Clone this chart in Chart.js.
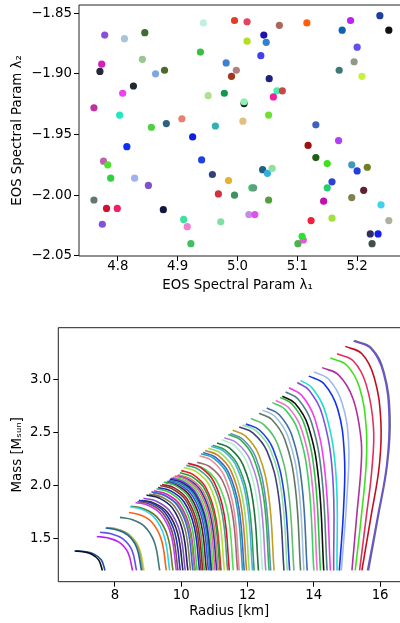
<!DOCTYPE html>
<html>
<head>
<meta charset="utf-8">
<script src="https://cdn.jsdelivr.net/npm/chart.js@4.4.1/dist/chart.umd.min.js"></script>
<style>
  html, body { margin: 0; padding: 0; background: #fff; overflow: hidden; }
  canvas { position: absolute; left: 0; }
  #paramChart { top: 0; }
  #mrChart { top: 300px; }
</style>
</head>
<body>
<canvas id="paramChart" width="400" height="300"></canvas>
<canvas id="mrChart" width="400" height="323"></canvas>
<script>
// --- EOS parameter samples (top panel) ---
const lambda1 = [4.778, 4.811, 4.845, 4.938, 4.773, 4.770, 4.841, 4.863, 4.878, 4.826,
  4.808, 4.760, 4.803, 4.856, 4.881, 4.907, 4.925, 4.943, 4.995, 5.016,
  5.070, 5.116, 5.189, 5.238, 5.175, 5.253, 5.044, 5.016, 5.048, 5.200,
  5.039, 4.981, 4.998, 4.990, 5.195, 5.170, 5.208, 5.053, 4.951, 4.978,
  5.066, 5.075, 5.060, 5.011, 5.011, 5.052, 4.963, 5.009, 5.131, 5.118,
  5.169, 4.815, 4.776, 4.783, 4.788, 4.828, 4.851, 4.760, 4.781, 4.799,
  4.876, 4.910, 4.916, 4.774, 4.922, 4.940, 5.131, 5.150, 5.191, 5.200,
  5.217, 4.958, 5.042, 5.050, 5.058, 4.985, 5.158, 5.150, 4.968, 4.995,
  5.024, 5.027, 5.052, 5.211, 5.191, 5.144, 5.240, 5.019, 5.029, 4.972,
  5.123, 5.158, 5.253, 5.222, 5.235, 5.225, 5.110, 5.108, 5.101];
const lambda2 = [-1.868, -1.871, -1.866, -1.882, -1.892, -1.898, -1.888, -1.900, -1.897, -1.910,
  -1.916, -1.928, -1.934, -1.944, -1.941, -1.937, -1.952, -1.858, -1.856, -1.857,
  -1.860, -1.858, -1.856, -1.852, -1.864, -1.864, -1.868, -1.873, -1.874, -1.878,
  -1.885, -1.891, -1.897, -1.902, -1.890, -1.897, -1.902, -1.904, -1.918, -1.916,
  -1.914, -1.914, -1.919, -1.9245, -1.923, -1.934, -1.943, -1.939, -1.942, -1.959,
  -1.955, -1.960, -1.972, -1.975, -1.986, -1.986, -1.992, -2.004, -2.011, -2.011,
  -2.012, -2.020, -2.026, -2.024, -2.040, -1.971, -1.969, -1.974, -1.975, -1.980,
  -1.977, -1.983, -1.979, -1.982, -1.978, -1.988, -1.989, -1.994, -1.999, -2.000,
  -1.994, -1.994, -2.004, -1.996, -2.002, -2.005, -2.008, -2.016, -2.016, -2.022,
  -2.021, -2.019, -2.021, -2.032, -2.032, -2.040, -2.037, -2.034, -2.040];
const pointColors = ['#8a4fd8', '#a8c4d8', '#3e6b2e', '#38c040', '#d020c0', '#28283c', '#98c890', '#80a8e0', '#4a6a2a', '#202830',
  '#f040f0', '#c030a0', '#20e8c0', '#50d040', '#306080', '#e88070', '#1020e0', '#c0f0e0', '#e04020', '#e84060',
  '#a86860', '#ff6010', '#c020f0', '#2040a0', '#1060b0', '#101010', '#2010b0', '#b0e020', '#3080d0', '#6050f0',
  '#4040f0', '#4080d0', '#b08080', '#a03820', '#909888', '#407878', '#c8f040', '#202080', '#b0e090', '#109850',
  '#40f0b0', '#c84848', '#f020a0', '#202020', '#90f0b0', '#70e030', '#30b0b0', '#e0c080', '#4060c0', '#a01010',
  '#b040f0', '#1030f0', '#c060b0', '#50e030', '#30d040', '#a0b0f0', '#8050d0', '#607870', '#d01030', '#f02060',
  '#101840', '#40e0a0', '#f080d0', '#8050e0', '#40c060', '#2040e0', '#206010', '#40e020', '#4098c0', '#2040e0',
  '#708020', '#304080', '#206080', '#30b0e0', '#90e0a0', '#e8b030', '#3040d0', '#20d070', '#d03040', '#409060',
  '#30d060', '#60a080', '#50a040', '#602030', '#808050', '#c010b0', '#40d0f0', '#c090e0', '#e050f0', '#80e0a0',
  '#f02040', '#a0e040', '#b0b0a0', '#303060', '#1020f0', '#405048', '#f050e0', '#30e030', '#50b050'];
const lambda1Ticks = [4.8, 4.9, 5.0, 5.1, 5.2];
const lambda2Ticks = [-2.05, -2.00, -1.95, -1.90, -1.85];

// --- mass-radius curves (bottom panel), [radius km, mass Msun] ---
const mrCurves = [
  [[6.78,1.383],[7.03,1.376],[7.30,1.352],[7.51,1.297],[7.62,1.2]],
  [[6.82,1.385],[7.08,1.378],[7.37,1.354],[7.59,1.298],[7.70,1.2]],
  [[7.45,1.52],[7.77,1.507],[8.12,1.466],[8.39,1.37],[8.53,1.2]],
  [[7.55,1.56],[7.88,1.546],[8.23,1.499],[8.51,1.391],[8.65,1.2]],
  [[7.72,1.60],[8.04,1.584],[8.39,1.532],[8.66,1.412],[8.80,1.2]],
  [[7.74,1.605],[8.07,1.589],[8.42,1.536],[8.70,1.415],[8.84,1.2]],
  [[7.76,1.60],[8.10,1.584],[8.45,1.532],[8.73,1.412],[8.88,1.2]],
  [[8.15,1.70],[8.51,1.68],[8.89,1.615],[9.19,1.465],[9.35,1.2]],
  [[8.42,1.745],[8.76,1.723],[9.12,1.652],[9.40,1.489],[9.55,1.2]],
  [[8.45,1.80],[8.81,1.776],[9.19,1.698],[9.49,1.518],[9.65,1.2]],
  [[8.48,1.805],[8.86,1.781],[9.27,1.702],[9.59,1.521],[9.75,1.2]],
  [[8.62,1.84],[8.99,1.814],[9.38,1.731],[9.69,1.539],[9.85,1.2]],
  [[8.68,1.85],[9.05,1.824],[9.44,1.74],[9.74,1.545],[9.90,1.2]],
  [[8.72,1.86],[9.10,1.834],[9.50,1.748],[9.81,1.55],[9.97,1.2]],
  [[8.80,1.86],[9.18,1.834],[9.58,1.748],[9.89,1.55],[10.05,1.2]],
  [[8.86,1.88],[9.24,1.853],[9.64,1.764],[9.96,1.56],[10.12,1.2]],
  [[8.95,1.91],[9.33,1.882],[9.73,1.789],[10.04,1.576],[10.20,1.2]],
  [[9.03,1.92],[9.41,1.891],[9.81,1.798],[10.12,1.582],[10.28,1.2]],
  [[9.10,1.94],[9.48,1.91],[9.88,1.814],[10.19,1.592],[10.35,1.2]],
  [[9.15,1.93],[9.53,1.901],[9.93,1.806],[10.24,1.587],[10.40,1.2]],
  [[9.18,1.95],[9.55,1.92],[9.95,1.823],[10.26,1.598],[10.42,1.2]],
  [[9.25,1.97],[9.62,1.939],[10.01,1.839],[10.32,1.608],[10.48,1.2]],
  [[9.30,1.98],[9.68,1.949],[10.08,1.847],[10.39,1.613],[10.55,1.2]],
  [[9.36,2.00],[9.73,1.968],[10.13,1.864],[10.44,1.624],[10.60,1.2]],
  [[9.42,2.01],[9.79,1.978],[10.18,1.872],[10.49,1.629],[10.65,1.2]],
  [[9.47,2.03],[9.84,1.997],[10.23,1.889],[10.54,1.64],[10.70,1.2]],
  [[9.52,2.03],[9.89,1.997],[10.29,1.889],[10.60,1.64],[10.76,1.2]],
  [[9.58,2.04],[9.95,2.006],[10.35,1.897],[10.66,1.645],[10.82,1.2]],
  [[9.63,2.05],[10.00,2.016],[10.40,1.906],[10.71,1.651],[10.87,1.2]],
  [[9.66,2.06],[10.03,2.026],[10.43,1.914],[10.74,1.656],[10.90,1.2]],
  [[9.70,2.07],[10.07,2.035],[10.46,1.922],[10.76,1.661],[10.92,1.2]],
  [[9.75,2.08],[10.12,2.045],[10.51,1.93],[10.81,1.666],[10.97,1.2]],
  [[9.80,2.09],[10.17,2.054],[10.56,1.939],[10.86,1.672],[11.02,1.2]],
  [[9.86,2.09],[10.22,2.054],[10.61,1.939],[10.91,1.672],[11.07,1.2]],
  [[9.90,2.10],[10.27,2.064],[10.66,1.947],[10.96,1.677],[11.12,1.2]],
  [[9.96,2.12],[10.32,2.083],[10.71,1.964],[11.01,1.688],[11.17,1.2]],
  [[10.00,2.14],[10.36,2.102],[10.74,1.98],[11.04,1.698],[11.20,1.2]],
  [[10.08,2.17],[10.45,2.131],[10.84,2.005],[11.14,1.714],[11.30,1.2]],
  [[10.15,2.19],[10.53,2.15],[10.93,2.022],[11.24,1.725],[11.40,1.2]],
  [[10.20,2.21],[10.58,2.17],[10.98,2.038],[11.29,1.735],[11.45,1.2]],
  [[10.30,2.20],[10.68,2.16],[11.09,2.03],[11.41,1.73],[11.57,1.2]],
  [[10.48,2.22],[10.85,2.179],[11.24,2.047],[11.54,1.741],[11.70,1.2]],
  [[10.55,2.28],[10.91,2.237],[11.29,2.096],[11.59,1.772],[11.75,1.2]],
  [[10.60,2.30],[10.98,2.256],[11.38,2.113],[11.69,1.783],[11.85,1.2]],
  [[10.66,2.31],[11.03,2.266],[11.43,2.121],[11.74,1.788],[11.90,1.2]],
  [[10.72,2.33],[11.10,2.285],[11.50,2.138],[11.81,1.799],[11.97,1.2]],
  [[10.82,2.35],[11.19,2.304],[11.58,2.155],[11.89,1.81],[12.05,1.2]],
  [[10.90,2.37],[11.28,2.323],[11.68,2.171],[11.99,1.82],[12.15,1.2]],
  [[10.95,2.38],[11.33,2.333],[11.73,2.179],[12.04,1.825],[12.20,1.2]],
  [[11.08,2.40],[11.46,2.352],[11.86,2.196],[12.17,1.836],[12.33,1.2]],
  [[11.22,2.43],[11.59,2.381],[11.98,2.221],[12.29,1.852],[12.45,1.2]],
  [[11.30,2.45],[11.68,2.40],[12.08,2.238],[12.39,1.863],[12.55,1.2]],
  [[11.42,2.48],[11.79,2.429],[12.18,2.262],[12.49,1.878],[12.65,1.2]],
  [[11.48,2.49],[11.85,2.438],[12.24,2.271],[12.54,1.884],[12.70,1.2]],
  [[11.55,2.52],[11.93,2.467],[12.33,2.296],[12.64,1.90],[12.80,1.2]],
  [[11.75,2.55],[12.16,2.496],[12.59,2.321],[12.93,1.916],[13.10,1.2]],
  [[11.85,2.57],[12.26,2.515],[12.69,2.337],[13.03,1.926],[13.20,1.2]],
  [[11.95,2.58],[12.35,2.525],[12.77,2.345],[13.10,1.931],[13.27,1.2]],
  [[12.10,2.63],[12.49,2.573],[12.91,2.387],[13.23,1.958],[13.40,1.2]],
  [[12.35,2.68],[12.73,2.621],[13.13,2.428],[13.44,1.984],[13.60,1.2]],
  [[12.45,2.71],[12.83,2.65],[13.23,2.453],[13.54,2.00],[13.70,1.2]],
  [[12.58,2.73],[12.95,2.669],[13.34,2.47],[13.64,2.011],[13.80,1.2]],
  [[12.75,2.78],[13.13,2.717],[13.53,2.511],[13.84,2.037],[14.00,1.2]],
  [[12.85,2.80],[13.23,2.736],[13.63,2.528],[13.94,2.048],[14.10,1.2]],
  [[12.98,2.83],[13.35,2.765],[13.74,2.553],[14.04,2.064],[14.20,1.2]],
  [[13.05,2.84],[13.43,2.774],[13.83,2.561],[14.14,2.069],[14.30,1.2]],
  [[13.15,2.88],[13.53,2.813],[13.93,2.594],[14.24,2.09],[14.40,1.2]],
  [[13.25,2.92],[13.63,2.851],[14.03,2.628],[14.34,2.112],[14.50,1.2]],
  [[13.50,2.97],[13.85,2.899],[14.27,2.651],[14.57,2.085],[14.60,1.2]],
  [[13.60,2.99],[13.95,2.918],[14.37,2.668],[14.67,2.095],[14.70,1.2]],
  [[13.85,3.03],[14.30,2.96],[14.72,2.72],[14.92,2.3],[14.90,1.8],[14.77,1.2]],
  [[14.00,3.07],[14.45,3.00],[14.85,2.78],[15.05,2.4],[15.00,1.9],[14.83,1.2]],
  [[14.25,3.11],[14.75,3.04],[15.18,2.82],[15.42,2.45],[15.43,2.2],[15.29,1.7],[15.15,1.2]],
  [[14.50,3.20],[15.00,3.13],[15.38,2.92],[15.58,2.55],[15.58,2.2],[15.43,1.7],[15.25,1.2]],
  [[14.70,3.24],[15.20,3.17],[15.58,2.95],[15.80,2.55],[15.75,2.15],[15.58,1.7],[15.38,1.2]],
  [[14.95,3.31],[15.45,3.24],[15.82,3.02],[16.02,2.62],[15.98,2.2],[15.72,1.7],[15.45,1.2]],
  [[15.20,3.36],[15.72,3.29],[16.10,3.06],[16.27,2.65],[16.20,2.2],[15.92,1.7],[15.62,1.2]],
  [[15.22,3.365],[15.74,3.295],[16.12,3.065],[16.30,2.65],[16.22,2.2],[15.94,1.7],[15.65,1.2]]
];
const curveColors = ['#101010', '#2050a0', '#c020f0', '#6050f0', '#206890', '#a0a070', '#c0e030', '#407878',
  '#ff6010', '#30d0f0', '#6a7a20', '#c040f0', '#805040', '#2030d0', '#302840', '#8050d0', '#202060',
  '#808050', '#4060e0', '#80a040', '#e020c0', '#40d040', '#2020c0', '#804030', '#a02020', '#30c060',
  '#601818', '#3050f0', '#209090', '#202090', '#9040e0', '#60e040', '#f060a0', '#1840a0', '#e08070',
  '#20a040', '#f02020', '#b0e030', '#40a080', '#e01030', '#50e050', '#a06870', '#e890a0', '#30a0b0',
  '#3070d0', '#d08020', '#90e060', '#50b0e0', '#30a050', '#207040', '#b0f0d0', '#b080e0', '#30b050',
  '#6090c0', '#c0a020', '#404080', '#90e0a0', '#2040e0', '#60c070', '#607860', '#a0c0e0', '#4070a0',
  '#40d060', '#f070d0', '#30c040', '#101010', '#508080', '#f040f0', '#8050e0', '#20e0d0', '#1030f0',
  '#a0b8f0', '#b030a0', '#40e020', '#e03060', '#c01020', '#7050d0', '#607080'];
const radiusTicks = [8, 10, 12, 14, 16];
const massTicks = [1.5, 2.0, 2.5, 3.0];

const tickFont = {family: "'DejaVu Sans', sans-serif", size: 13.33, lineHeight: 1};
const titleFont = {family: "'DejaVu Sans', sans-serif", size: 13.33, lineHeight: 1.2};

// matplotlib-style spines (right one falls outside the picture)
const frame = {
  id: 'frame',
  afterDatasetsDraw(chart) {
    const {ctx, chartArea: a} = chart;
    ctx.save();
    ctx.strokeStyle = '#222';
    ctx.lineWidth = 1;
    ctx.beginPath();
    ctx.moveTo(a.right + 20, a.top);
    ctx.lineTo(a.left, a.top);
    ctx.lineTo(a.left, a.bottom);
    ctx.lineTo(a.right + 20, a.bottom);
    ctx.stroke();
    ctx.restore();
  }
};

function makeScale(min, max, tickValues, fmt, title, horizontal, size, labelPad, titlePad) {
  return {
    type: 'linear',
    min: min,
    max: max,
    afterBuildTicks: s => { s.ticks = tickValues.map(v => ({value: v})); },
    afterFit: s => {
      if (horizontal) s.height = size; else s.width = size;
      s.paddingLeft = s.paddingRight = s.paddingTop = s.paddingBottom = 0;
    },
    ticks: {color: '#000', font: tickFont, padding: labelPad, autoSkip: false, maxRotation: 0,
      callback: v => fmt(v)},
    grid: {drawOnChartArea: false, drawTicks: true, tickLength: 5, color: '#000', lineWidth: 1},
    border: {display: false},
    title: {display: true, text: title, color: '#000', font: titleFont, padding: titlePad}
  };
}

const minus = s => s.replace('-', '\u2212');

// --- Top panel: parameter scatter ---
const paramPoints = lambda1.map((x, i) => ({x: x, y: lambda2[i]}));
new Chart(document.getElementById('paramChart'), {
  type: 'scatter',
  data: {
    datasets: [{
      data: paramPoints,
      pointBackgroundColor: pointColors,
      pointBorderWidth: 0,
      pointRadius: 3.6
    }]
  },
  options: {
    responsive: false,
    animation: false,
    layout: {padding: {top: 5, right: 0, bottom: 0, left: 0}},
    plugins: {legend: {display: false}, tooltip: {enabled: false}},
    scales: {
      x: makeScale(4.735, 5.265, lambda1Ticks, v => v.toFixed(1), 'EOS Spectral Param \u03bb\u2081',
        true, 44, -1, {bottom: 6}),
      y: makeScale(-2.0502, -1.8432, lambda2Ticks, v => minus(v.toFixed(2)), 'EOS Spectral Param \u03bb\u2082',
        false, 79, 2, {top: 10})
    }
  },
  plugins: [frame]
});

// --- Bottom panel: mass-radius curves ---
const curveSets = mrCurves.map((c, i) => ({
  data: c.map(p => ({x: p[0], y: p[1]})),
  showLine: true,
  borderColor: curveColors[i],
  borderWidth: 1.6,
  pointRadius: 0,
  tension: 0.4,
  fill: false
}));
new Chart(document.getElementById('mrChart'), {
  type: 'scatter',
  data: {datasets: curveSets},
  options: {
    responsive: false,
    animation: false,
    layout: {padding: {top: 27.7, right: 0, bottom: 0, left: 0}},
    plugins: {legend: {display: false}, tooltip: {enabled: false}},
    scales: {
      x: makeScale(6.29, 16.6, radiusTicks, v => String(v), 'Radius [km]',
        true, 41.3, 2, {bottom: 3.6}),
      y: makeScale(1.094, 3.486, massTicks, v => v.toFixed(1), 'Mass [M\u209b\u1d64\u2099]',
        false, 58.3, 2, {top: 10})
    }
  },
  plugins: [frame]
});
</script>
</body>
</html>
